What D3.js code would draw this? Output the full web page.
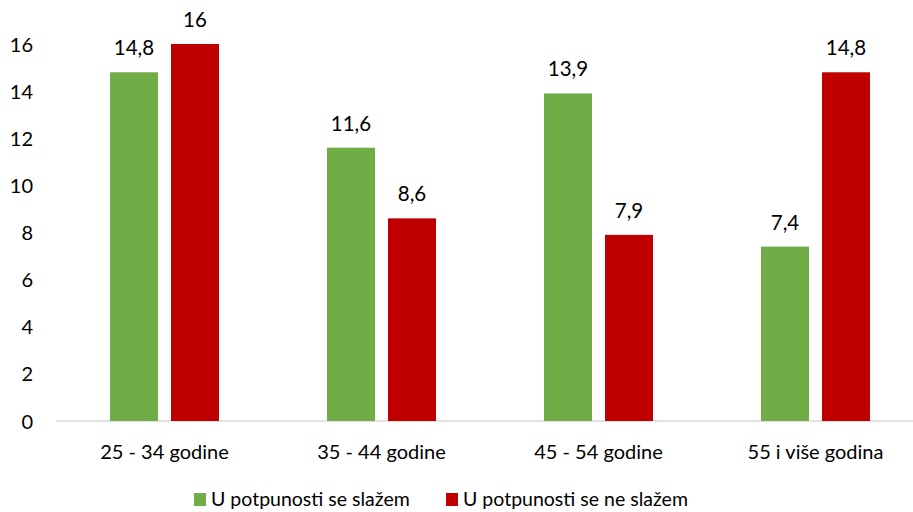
<!DOCTYPE html>
<html><head><meta charset="utf-8">
<script src="https://cdn.jsdelivr.net/npm/d3@7"></script>
<style>body{margin:0;background:#fff}text{font-family:Lato,"Open Sans",sans-serif;fill:#000}</style>
</head><body><svg id="c" width="913" height="512"></svg>
<script>
const categories = ["25 - 34 godine","35 - 44 godine","45 - 54 godine","55 i više godina"];
const seriesNames = ["U potpunosti se slažem","U potpunosti se ne slažem"];
const agreeValues = [14.8, 11.6, 13.9, 7.4];
const disagreeValues = [16, 8.6, 7.9, 14.8];
const yTicks = [0,2,4,6,8,10,12,14,16];
const colors = ["#70AD47","#C00000"];

const svg = d3.select("#c");
const x = d3.scaleBand().domain(categories).range([56, 924]);
const y = d3.scaleLinear().domain([0,16]).range([421, 44]);
const barW = 48, gap = 13, groupW = barW*2 + gap;

svg.append("line").attr("x1",56).attr("x2",913).attr("y1",y(0)).attr("y2",y(0))
  .attr("stroke","#D9D9D9").attr("stroke-width",1.5);

const yAxis = d3.axisLeft(y).tickValues(yTicks).tickSize(0).tickFormat(d3.format("d"));
const ga = svg.append("g").attr("transform","translate(33,0)").call(yAxis);
ga.select(".domain").remove();
ga.selectAll("text").style("font-size","20px").attr("dy","0.35em").attr("x",0);

const xAxis = d3.axisBottom(x).tickSize(0);
const gx = svg.append("g").attr("transform",`translate(0,${y(0)})`).call(xAxis);
gx.select(".domain").remove();
gx.selectAll("text").style("font-size","20px").attr("y",31).attr("dy","0.35em");

const series = [agreeValues, disagreeValues];
const fmt = v => String(v).replace(".", ",");
series.forEach((vals, si) => {
  const g = svg.append("g");
  const off = (x.bandwidth() - groupW) / 2 + si*(barW+gap);
  g.selectAll("rect").data(vals).join("rect")
    .attr("x",(d,i)=>x(categories[i]) + off)
    .attr("width",barW)
    .attr("y",d=>y(d)).attr("height",d=>y(0)-y(d))
    .attr("fill",colors[si]);
  g.selectAll("text").data(vals).join("text")
    .attr("x",(d,i)=>x(categories[i]) + off + barW/2)
    .attr("y",d=>y(d)-17)
    .attr("text-anchor","middle").style("font-size","20.5px")
    .text(fmt);
});

const legX = [194, 446];
seriesNames.forEach((n,i)=>{
  svg.append("rect").attr("x",legX[i]).attr("y",493).attr("width",12).attr("height",13).attr("fill",colors[i]);
  svg.append("text").attr("x",legX[i]+17).attr("y",499).attr("dy","0.35em").style("font-size","19.5px").text(n);
});
</script></body></html>
